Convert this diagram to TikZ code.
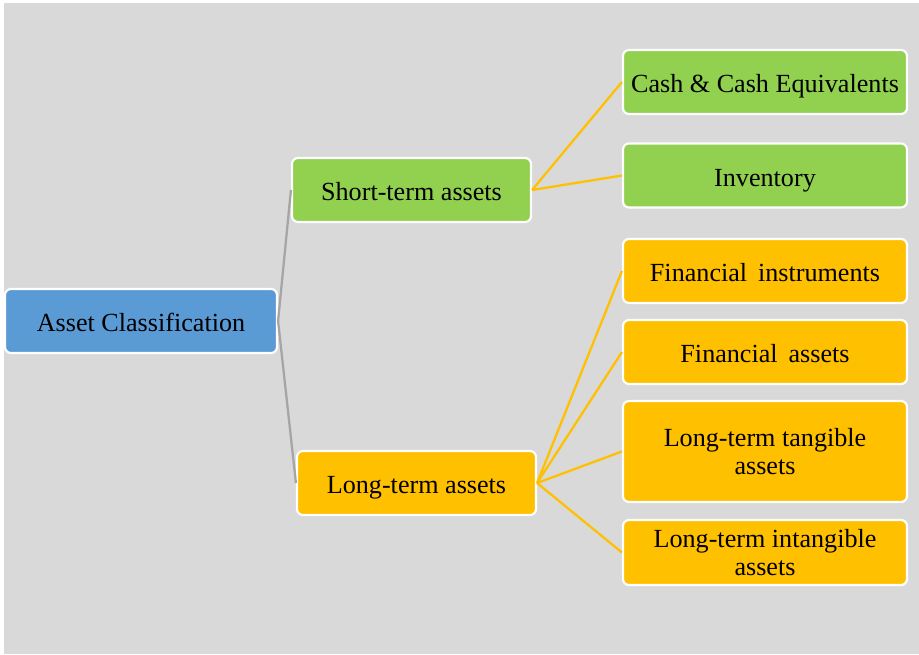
\documentclass[tikz,border=0pt]{standalone}
\usepackage{fontspec}
\setmainfont{Liberation Serif}
\definecolor{bgc}{HTML}{D9D9D9}
\definecolor{bluec}{HTML}{5B9BD5}
\definecolor{greenc}{HTML}{92D050}
\definecolor{orangec}{HTML}{FFC000}
\definecolor{grayline}{HTML}{A5A5A5}
\begin{document}
\begin{tikzpicture}[x=0.75pt,y=-0.75pt,
  box/.style={draw=white,line width=1.6pt,rounded corners=4.5pt,align=center,
    font=\fontsize{19.6}{21}\selectfont,inner sep=0pt,anchor=center},
  one/.style={text height=16.4pt,text depth=0pt},
  conn/.style={line width=1.7pt},
  gconn/.style={conn,draw=grayline},
  oconn/.style={conn,draw=orangec}]
\useasboundingbox (0,0) rectangle (919,654);
\fill[white] (0,0) rectangle (919,654);
\fill[bgc] (4,3) rectangle (919,654);
\node[box,one,fill=bluec,minimum width=272*0.75pt,minimum height=64*0.75pt] (ac) at (141,321) {Asset Classification};
\node[box,one,fill=greenc,minimum width=239*0.75pt,minimum height=64*0.75pt] (st) at (411.5,190) {Short-term assets};
\node[box,one,fill=orangec,minimum width=239*0.75pt,minimum height=64*0.75pt] (lt) at (416.5,483) {Long-term assets};
\node[box,one,fill=greenc,minimum width=284*0.75pt,minimum height=64*0.75pt] (cash) at (765,82) {Cash \& Cash Equivalents};
\node[box,one,fill=greenc,minimum width=284*0.75pt,minimum height=64*0.75pt] (inv) at (765,175.5) {Inventory};
\node[box,one,fill=orangec,minimum width=284*0.75pt,minimum height=64*0.75pt] (fi) at (765,271) {Financial\, instruments};
\node[box,one,fill=orangec,minimum width=284*0.75pt,minimum height=64*0.75pt] (fa) at (765,352) {Financial\, assets};
\node[box,fill=orangec,minimum width=284*0.75pt,minimum height=101*0.75pt] (ltt) at (765,451.5) {Long-term tangible\\assets};
\node[box,fill=orangec,minimum width=284*0.75pt,minimum height=65*0.75pt] (lti) at (765,552.5) {Long-term intangible\\assets};
\draw[gconn] (ac.east) -- (st.west);
\draw[gconn] (ac.east) -- (lt.west);
\draw[oconn] (st.east) -- (cash.west);
\draw[oconn] (st.east) -- (inv.west);
\draw[oconn] (lt.east) -- (fi.west);
\draw[oconn] (lt.east) -- (fa.west);
\draw[oconn] (lt.east) -- (ltt.west);
\draw[oconn] (lt.east) -- (lti.west);
\end{tikzpicture}
\end{document}
